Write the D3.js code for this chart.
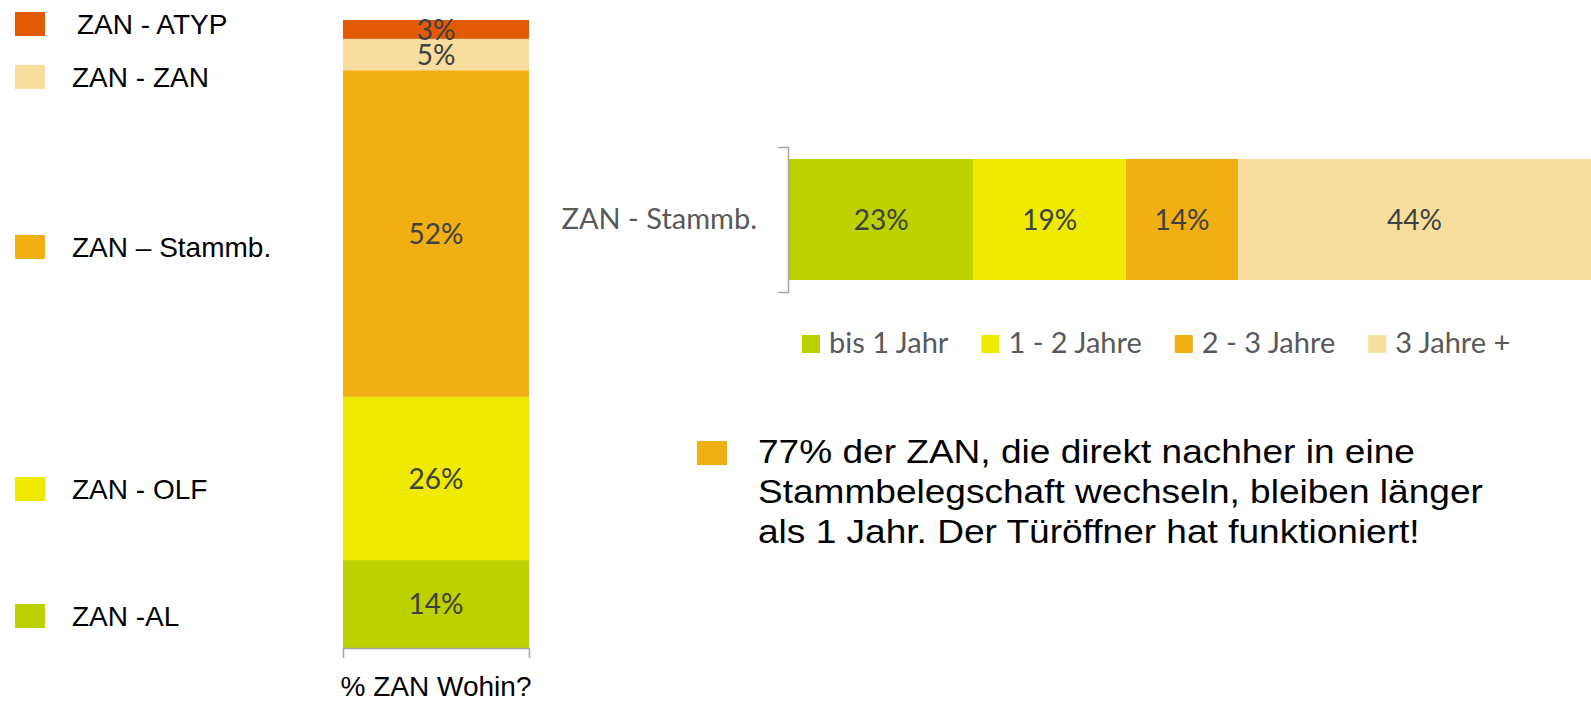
<!DOCTYPE html>
<html>
<head>
<meta charset="utf-8">
<script src="https://cdn.jsdelivr.net/npm/d3@7"></script>
<style>
    body { margin: 0; background: #fff; }
    svg { display: block; }
</style>
</head>
<body>
<div id="chart"></div>
<script>
// Left chart: "% ZAN Wohin?" (stacked from bottom to top)
const wohinCategory = ["% ZAN Wohin?"];
const wohinLabels = ["ZAN -AL", "ZAN - OLF", "ZAN \u2013 Stammb.", "ZAN - ZAN", "ZAN - ATYP"];
const wohinValues = [14, 26, 52, 5, 3];
const wohinColors = ["#bbd100", "#eeea00", "#f0b013", "#f7dd9e", "#e35a05"];

// Right chart: how long ZAN stay in Stammbelegschaft
const dauerCategory = ["ZAN - Stammb."];
const dauerLabels = ["bis 1 Jahr", "1 - 2 Jahre", "2 - 3 Jahre", "3 Jahre +"];
const dauerValues = [23, 19, 14, 44];
const dauerColors = ["#bbd100", "#eeea00", "#f0b013", "#f7dd9e"];

// Note text
const noteLines = [
    "77% der ZAN, die direkt nachher in eine",
    "Stammbelegschaft wechseln, bleiben l\u00e4nger",
    "als 1 Jahr. Der T\u00fcr\u00f6ffner hat funktioniert!"
];

const width = 1591, height = 702;
const valueFont = "Lato, 'Open Sans', sans-serif";
const arialFont = "'Liberation Sans', Arial, sans-serif";
const axisColor = "#a6a6a6";

var svg = d3.select("#chart").append("svg")
    .attr("width", width)
    .attr("height", height);

// ---------- Left stacked column ----------
var xL = d3.scaleBand()
    .domain(wohinCategory)
    .range([343, 529])
    .padding(0);

var yL = d3.scaleLinear()
    .domain([0, 100])
    .range([648, 20]);

var leftRows = wohinValues.map((v, i) => ({label: wohinLabels[i], value: v, color: wohinColors[i]}));
var cum = d3.cumsum(wohinValues);
leftRows.forEach((d, i) => { d.y1 = cum[i]; d.y0 = cum[i] - d.value; });

svg.append("g").selectAll("rect")
    .data(leftRows)
    .join("rect")
        .attr("x", xL(wohinCategory[0]))
        .attr("width", xL.bandwidth())
        .attr("y", d => yL(d.y1))
        .attr("height", d => yL(d.y0) - yL(d.y1))
        .attr("fill", d => d.color);

svg.append("g").selectAll("text")
    .data(leftRows)
    .join("text")
        .attr("x", xL(wohinCategory[0]) + xL.bandwidth() / 2)
        .attr("y", d => (yL(d.y0) + yL(d.y1)) / 2)
        .attr("dy", "0.36em")
        .attr("text-anchor", "middle")
        .attr("font-family", valueFont)
        .attr("font-size", "28px")
        .attr("fill", "#404040")
        .text(d => d.value + "%");

var xAxisL = svg.append("g")
    .attr("transform", `translate(0, ${yL(0)})`)
    .call(d3.axisBottom(xL).tickSizeInner(0).tickSizeOuter(10).tickPadding(28));
xAxisL.select(".domain").attr("stroke", axisColor).attr("stroke-width", 1.5);
xAxisL.selectAll("text")
    .attr("font-family", arialFont)
    .attr("font-size", "28px")
    .attr("fill", "#000");

// left legend (top to bottom in the picture)
const legendLY = [616, 489, 247, 77, 24];
var legL = svg.append("g").selectAll("g")
    .data(leftRows)
    .join("g")
        .attr("transform", (d, i) => `translate(15, ${legendLY[i]})`);
legL.append("rect")
    .attr("x", 0).attr("y", -12)
    .attr("width", 30).attr("height", 24)
    .attr("fill", d => d.color);
legL.append("text")
    .attr("x", (d, i) => i === 4 ? 62 : 57)
    .attr("y", 10)
    .attr("font-family", arialFont)
    .attr("font-size", "28px")
    .attr("fill", "#000")
    .text(d => d.label);

// ---------- Right stacked bar ----------
var xR = d3.scaleLinear()
    .domain([0, 100])
    .range([789, 1591]);

var yR = d3.scaleBand()
    .domain(dauerCategory)
    .range([147, 292])
    .padding(0.09);

var rightRows = dauerValues.map((v, i) => ({label: dauerLabels[i], value: v, color: dauerColors[i]}));
var cumR = d3.cumsum(dauerValues);
rightRows.forEach((d, i) => { d.x1 = cumR[i]; d.x0 = cumR[i] - d.value; });

svg.append("g").selectAll("rect")
    .data(rightRows)
    .join("rect")
        .attr("x", d => xR(d.x0))
        .attr("width", d => xR(d.x1) - xR(d.x0))
        .attr("y", yR(dauerCategory[0]))
        .attr("height", yR.bandwidth())
        .attr("fill", d => d.color);

svg.append("g").selectAll("text")
    .data(rightRows)
    .join("text")
        .attr("x", d => (xR(d.x0) + xR(d.x1)) / 2)
        .attr("y", yR(dauerCategory[0]) + yR.bandwidth() / 2)
        .attr("dy", "0.36em")
        .attr("text-anchor", "middle")
        .attr("font-family", valueFont)
        .attr("font-size", "28px")
        .attr("fill", "#404040")
        .text(d => d.value + "%");

var yAxisR = svg.append("g")
    .attr("transform", `translate(${xR(0) - 1}, 0)`)
    .call(d3.axisLeft(yR).tickSizeInner(0).tickSizeOuter(10).tickPadding(31));
yAxisR.select(".domain").attr("stroke", axisColor).attr("stroke-width", 1.5);
yAxisR.selectAll("text")
    .attr("font-family", valueFont)
    .attr("font-size", "29px")
    .attr("fill", "#595959");

// right legend, laid out one after another
var legR = svg.append("g");
var lx = 802;
rightRows.forEach(d => {
    legR.append("rect")
        .attr("x", lx).attr("y", 335)
        .attr("width", 18).attr("height", 18)
        .attr("fill", d.color);
    var t = legR.append("text")
        .attr("x", lx + 27)
        .attr("y", 353)
        .attr("font-family", valueFont)
        .attr("font-size", "29px")
        .attr("fill", "#595959")
        .text(d.label);
    lx += 27 + t.node().getComputedTextLength() + 33;
});

// ---------- Note ----------
svg.append("rect")
    .attr("x", 697).attr("y", 441)
    .attr("width", 30).attr("height", 24)
    .attr("fill", "#f0b013");

var note = svg.append("g")
    .attr("transform", "translate(758, 0) scale(1.09, 1)");
note.selectAll("text")
    .data(noteLines)
    .join("text")
        .attr("x", 0)
        .attr("y", (d, i) => 463 + i * 40)
        .attr("font-family", arialFont)
        .attr("font-size", "34px")
        .attr("fill", "#000")
        .text(d => d);
</script>
</body>
</html>
